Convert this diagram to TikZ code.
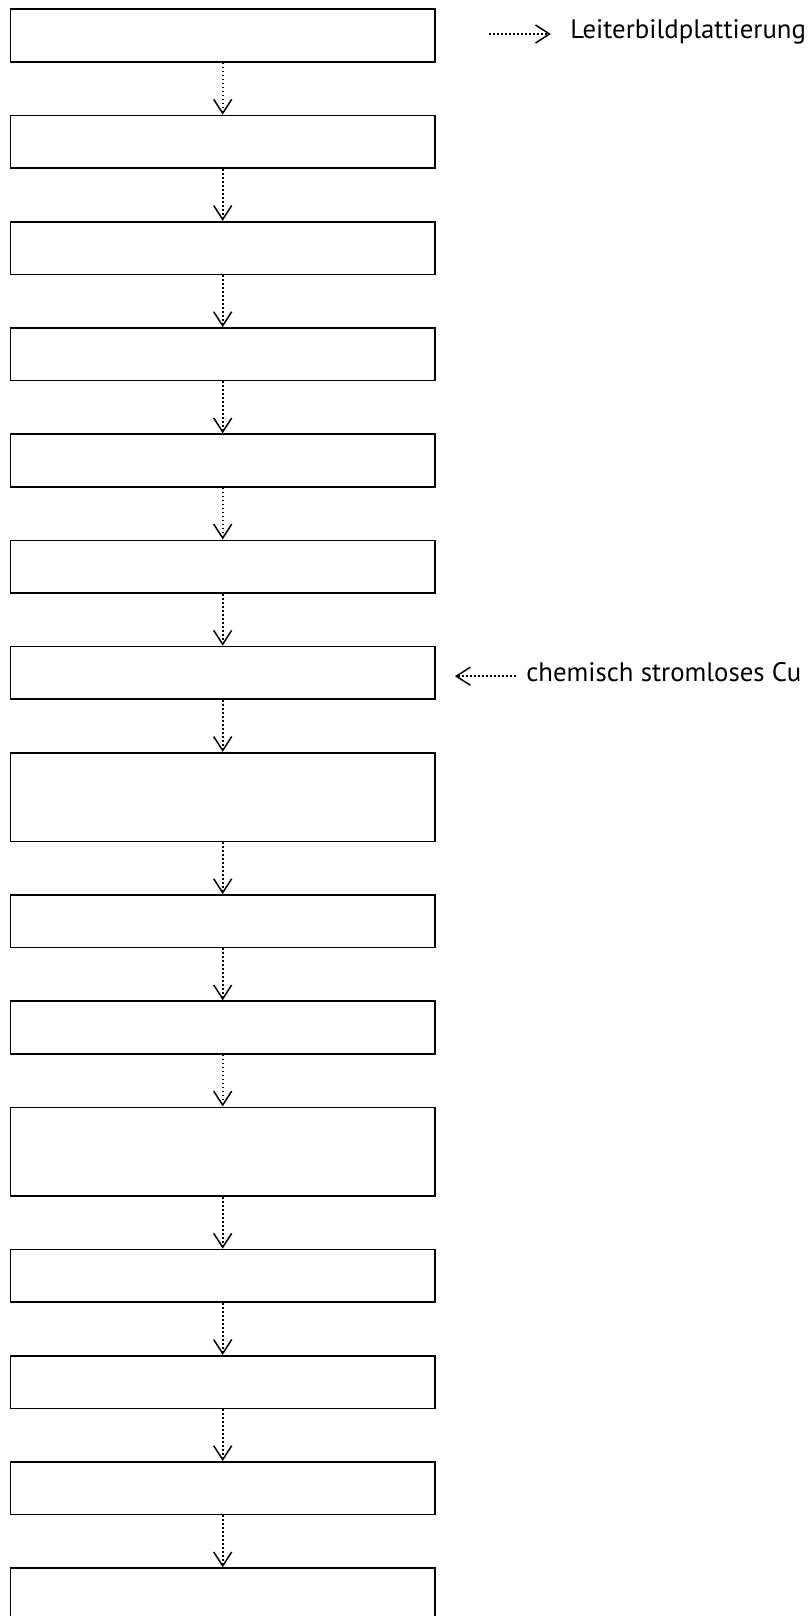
\documentclass[tikz,border=0pt]{standalone}
\usepackage{fontspec}
\setmainfont{PT Sans}
\usepackage{tikz}
\usetikzlibrary{arrows.meta,positioning}

\begin{document}
\begin{tikzpicture}[
    node distance=26.0pt,
    box/.style={rectangle, draw, line width=0.8pt, minimum width=212.4pt,
                minimum height=26.3pt, inner sep=0pt},
    tallbox/.style={box, minimum height=44.3pt},
    note/.style={inner sep=0pt, font=\fontsize{13.4}{16}\selectfont},
    flow/.style={-{Straight Barb[length=7pt, width=9pt, line width=0.75pt]},
                 line width=0.9pt, dash pattern=on 0.9pt off 1.1pt}
  ]
    \useasboundingbox (0,0) rectangle (404pt,-808pt);

    \node[box] (b1) at (111.35pt,-17.8pt) {};
    \node[box, below=of b1] (b2) {};
    \node[box, below=of b2] (b3) {};
    \node[box, below=of b3] (b4) {};
    \node[box, below=of b4] (b5) {};
    \node[box, below=of b5] (b6) {};
    \node[box, below=of b6] (b7) {};
    \node[tallbox, below=of b7] (b8) {};
    \node[box, below=of b8] (b9) {};
    \node[box, below=of b9] (b10) {};
    \node[tallbox, below=of b10] (b11) {};
    \node[box, below=of b11] (b12) {};
    \node[box, below=of b12] (b13) {};
    \node[box, below=of b13] (b14) {};
    \node[box, below=of b14] (b15) {};

    \foreach \a/\b in {b1/b2, b2/b3, b3/b4, b4/b5, b5/b6, b6/b7, b7/b8,
                       b8/b9, b9/b10, b10/b11, b11/b12, b12/b13, b13/b14, b14/b15}
      \draw[flow] (\a) -- (\b);

    % side notes
    \node[note, right=67pt of b1.east, anchor=mid west, yshift=0.8pt] (plating) {Leiterbildplattierung};
    \coordinate[left=40.5pt of plating.mid west] (platfrom);
    \draw[flow, shorten >=9.5pt] (platfrom) -- (plating.mid west);

    \node[note, right=45pt of b7.east, anchor=mid west, yshift=-1.7pt] (cu) {chemisch stromloses Cu};
    \coordinate[left=35.5pt of cu.mid west] (cutip);
    \draw[flow, shorten <=5pt] (cu.mid west) -- (cutip);
  \end{tikzpicture}
\end{document}
